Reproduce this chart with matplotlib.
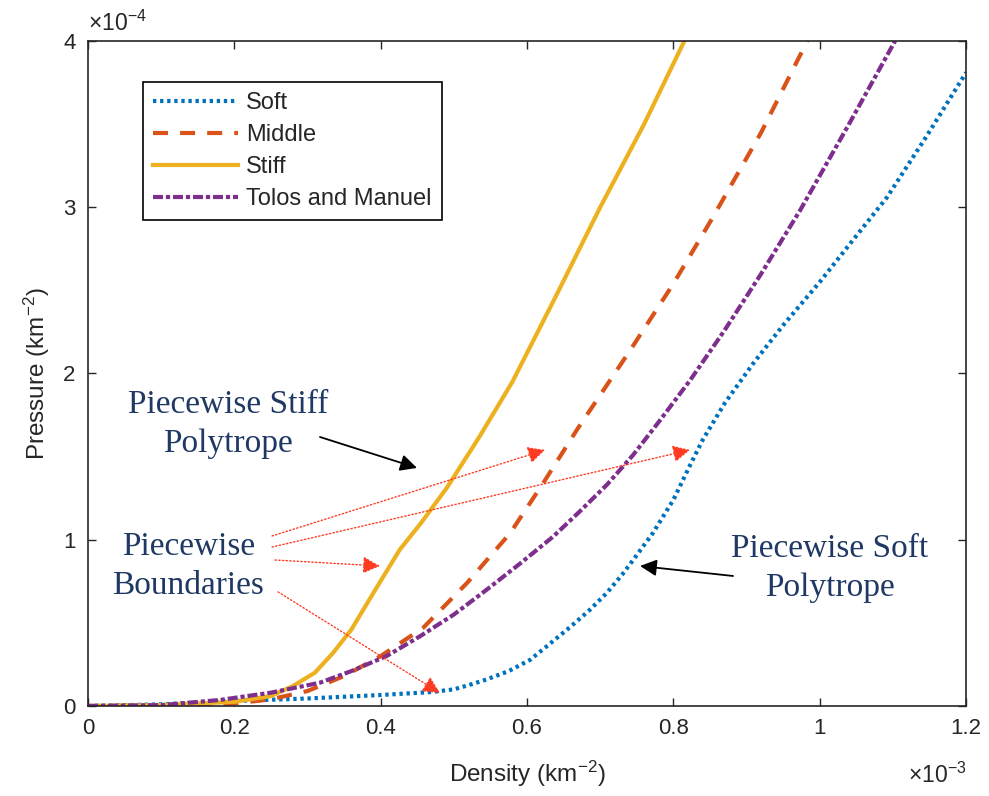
import numpy as np
import matplotlib.pyplot as plt

plt.rcParams['font.family'] = ['Liberation Sans', 'DejaVu Sans']
plt.rcParams['mathtext.default'] = 'regular'

# === Data (density in 1e-3 km^-2, pressure in 1e-4 km^-2) ===
soft_x = [0, 0.1, 0.2, 0.3, 0.4, 0.47, 0.5, 0.52, 0.545, 0.575, 0.604, 0.63, 0.659,
          0.685, 0.709, 0.73, 0.745, 0.772, 0.800, 0.823, 0.84, 0.87, 0.909, 0.95,
          1.0, 1.045, 1.092, 1.145, 1.2]
soft_y = [0, 0.01, 0.03, 0.045, 0.066, 0.084, 0.1, 0.125, 0.16, 0.21, 0.277, 0.37, 0.475,
          0.575, 0.68, 0.79, 0.878, 1.04, 1.24, 1.45, 1.6, 1.82, 2.06, 2.29,
          2.55, 2.8, 3.06, 3.42, 3.81]

middle_x = [0, 0.1, 0.2, 0.25, 0.3, 0.35, 0.4, 0.458, 0.518, 0.577, 0.622, 0.668,
            0.741, 0.8, 0.854, 0.92, 0.983]
middle_y = [0, 0.003, 0.015, 0.04, 0.09, 0.18, 0.3, 0.47, 0.74, 1.04, 1.34, 1.66,
            2.14, 2.54, 2.94, 3.45, 4.0]

stiff_x = [0, 0.1, 0.2, 0.25, 0.28, 0.31, 0.335, 0.36, 0.39, 0.426, 0.455, 0.49,
           0.535, 0.58, 0.64, 0.70, 0.76, 0.815]
stiff_y = [0, 0.005, 0.025, 0.06, 0.12, 0.2, 0.32, 0.46, 0.68, 0.94, 1.10, 1.31,
           1.62, 1.95, 2.47, 3.0, 3.5, 4.0]

tolos_x = [0, 0.1, 0.18, 0.25, 0.317, 0.36, 0.408, 0.454, 0.5, 0.545, 0.59, 0.636,
           0.672, 0.709, 0.745, 0.782, 0.823, 0.87, 0.92, 0.973, 1.04, 1.103]
tolos_y = [0, 0.005, 0.036, 0.08, 0.14, 0.21, 0.3, 0.42, 0.55, 0.70, 0.855, 1.02,
           1.17, 1.33, 1.51, 1.72, 1.96, 2.26, 2.60, 2.98, 3.50, 4.0]

x_ticks = [0, 0.2, 0.4, 0.6, 0.8, 1, 1.2]
x_tick_labels = ['0', '0.2', '0.4', '0.6', '0.8', '1', '1.2']
y_ticks = [0, 1, 2, 3, 4]
y_tick_labels = ['0', '1', '2', '3', '4']

# === Plot ===
fig = plt.figure(figsize=(9.89, 7.96), dpi=100)
ax = fig.add_axes([0.089, 0.1131, 0.8878, 0.8354])

ax.plot(soft_x, soft_y, color='#0072BD', lw=3, linestyle=(0, (0.8, 0.9)), label='Soft')
ax.plot(middle_x, middle_y, color='#D95319', lw=3, linestyle=(0, (3.6, 2.9)), label='Middle')
ax.plot(stiff_x, stiff_y, color='#EDB120', lw=3, linestyle='-', label='Stiff')
ax.plot(tolos_x, tolos_y, color='#7E2F8E', lw=3, linestyle=(0, (2.4, 0.7, 1.0, 0.7)),
        label='Tolos and Manuel')

ax.set_xlim(0, 1.2)
ax.set_ylim(0, 4)
ax.set_xticks(x_ticks)
ax.set_xticklabels(x_tick_labels)
ax.set_yticks(y_ticks)
ax.set_yticklabels(y_tick_labels)

axis_col = '#262626'
for s in ax.spines.values():
    s.set_color(axis_col)
    s.set_linewidth(1.2)
ax.tick_params(direction='in', length=6, width=1, colors=axis_col, labelsize=16,
               top=True, right=True, pad=9)

ax.set_xlabel('Density (km$^{-2}$)', fontsize=17.5, color=axis_col, labelpad=14)
ax.set_ylabel('Pressure (km$^{-2}$)', fontsize=17.5, color=axis_col, labelpad=8)

ax.text(0.0, 1.008, r'$\times10^{-4}$', transform=ax.transAxes, fontsize=16.5,
        color=axis_col, ha='left', va='bottom')
ax.text(1.0, -0.085, r'$\times10^{-3}$', transform=ax.transAxes, fontsize=16.5,
        color=axis_col, ha='right', va='top')

leg = ax.legend(loc='upper left', bbox_to_anchor=(0.0626, 0.938), borderaxespad=0,
                fontsize=17, handlelength=3.6, handletextpad=0.35, labelspacing=0.42,
                fancybox=False, framealpha=1, edgecolor='black', borderpad=0.42)
leg.get_frame().set_linewidth(1.2)
for t in leg.get_texts():
    t.set_color(axis_col)

# === Annotations ===
navy = '#1F3864'
serif = ['Liberation Serif', 'DejaVu Serif']
ax.text(0.191, 1.696, 'Piecewise Stiff\nPolytrope', fontsize=24, color=navy,
        family=serif, ha='center', va='center', linespacing=1.35)
ax.text(0.137, 0.842, 'Piecewise\nBoundaries', fontsize=24, color=navy,
        family=serif, ha='center', va='center', linespacing=1.35)
ax.text(1.014, 0.83, 'Piecewise Soft\nPolytrope', fontsize=24, color=navy,
        family=serif, ha='center', va='center', linespacing=1.35)

black_arrow = dict(arrowstyle='-|>', color='black', lw=1.3, mutation_scale=25,
                   shrinkA=0, shrinkB=0)
ax.annotate('', xy=(0.4496, 1.432), xytext=(0.317, 1.618), arrowprops=black_arrow)
ax.annotate('', xy=(0.7544, 0.842), xytext=(0.8815, 0.782), arrowprops=black_arrow)

red_arrow = dict(arrowstyle='-|>', color='#FF3B22', lw=1.0, linestyle=':',
                 mutation_scale=26, shrinkA=0, shrinkB=0)
ax.annotate('', xy=(0.6246, 1.540), xytext=(0.2515, 1.0226), arrowprops=red_arrow)
ax.annotate('', xy=(0.8227, 1.540), xytext=(0.2515, 0.956), arrowprops=red_arrow)
ax.annotate('', xy=(0.399, 0.842), xytext=(0.2556, 0.878), arrowprops=red_arrow)
ax.annotate('', xy=(0.481, 0.078), xytext=(0.2597, 0.686), arrowprops=red_arrow)

plt.savefig('out.png', dpi=100)
